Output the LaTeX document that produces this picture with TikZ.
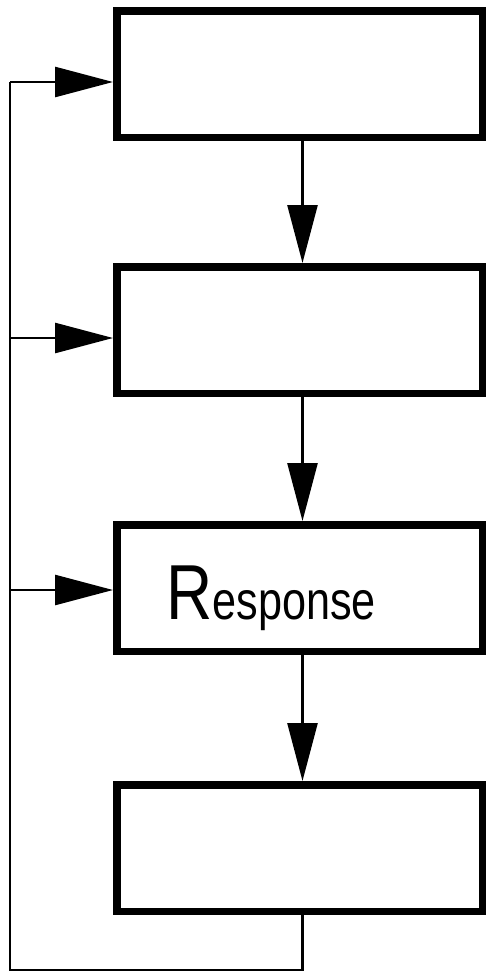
\documentclass[tikz,border=0pt]{standalone}
\usepackage{fontspec}
\usepackage{graphicx}
\setmainfont{Liberation Sans}
\usetikzlibrary{arrows.meta}
\begin{document}
\begin{tikzpicture}[x=1pt,y=-1pt,
  block/.style={draw,line width=7.5pt,minimum width=365.5pt,minimum height=126.5pt,inner sep=0pt},
  wire/.style={line width=2.6pt},
  flow/.style={wire,-{Triangle[length=58pt,width=30pt]}}]
  \useasboundingbox (0,0) rectangle (486,977);

  % the four stages
  \node[block] (b1) at (299.5,74) {};
  \node[block] (b2) at (299.5,330) {};
  \node[block] (b3) at (299.5,588) {};
  \node[block] (b4) at (299.5,848) {};
  \node[anchor=base west,inner sep=0pt] (resp) at (166,619)
    {\fontsize{78}{78}\selectfont\scalebox{0.82}[1]{R}\fontsize{54}{54}\selectfont\scalebox{0.8}[1]{esponse}};

  % forward path
  \coordinate (col) at (302.5,0);
  \draw[flow] (b1.south -| col) -- (b2.north -| col);
  \draw[flow] (b2.south -| col) -- (b3.north -| col);
  \draw[flow] (b3.south -| col) -- (b4.north -| col);

  % feedback loop
  \coordinate (bot) at (10,970);
  \coordinate (f1) at (10,82);
  \coordinate (f2) at (10,338);
  \coordinate (f3) at (10,590);
  \draw[wire] (b4.south -| col) |- (bot) -- (f1);
  \draw[flow] (f1) -- (f1 -| b1.west);
  \draw[flow] (f2) -- (f2 -| b2.west);
  \draw[flow] (f3) -- (f3 -| b3.west);
\end{tikzpicture}
\end{document}
